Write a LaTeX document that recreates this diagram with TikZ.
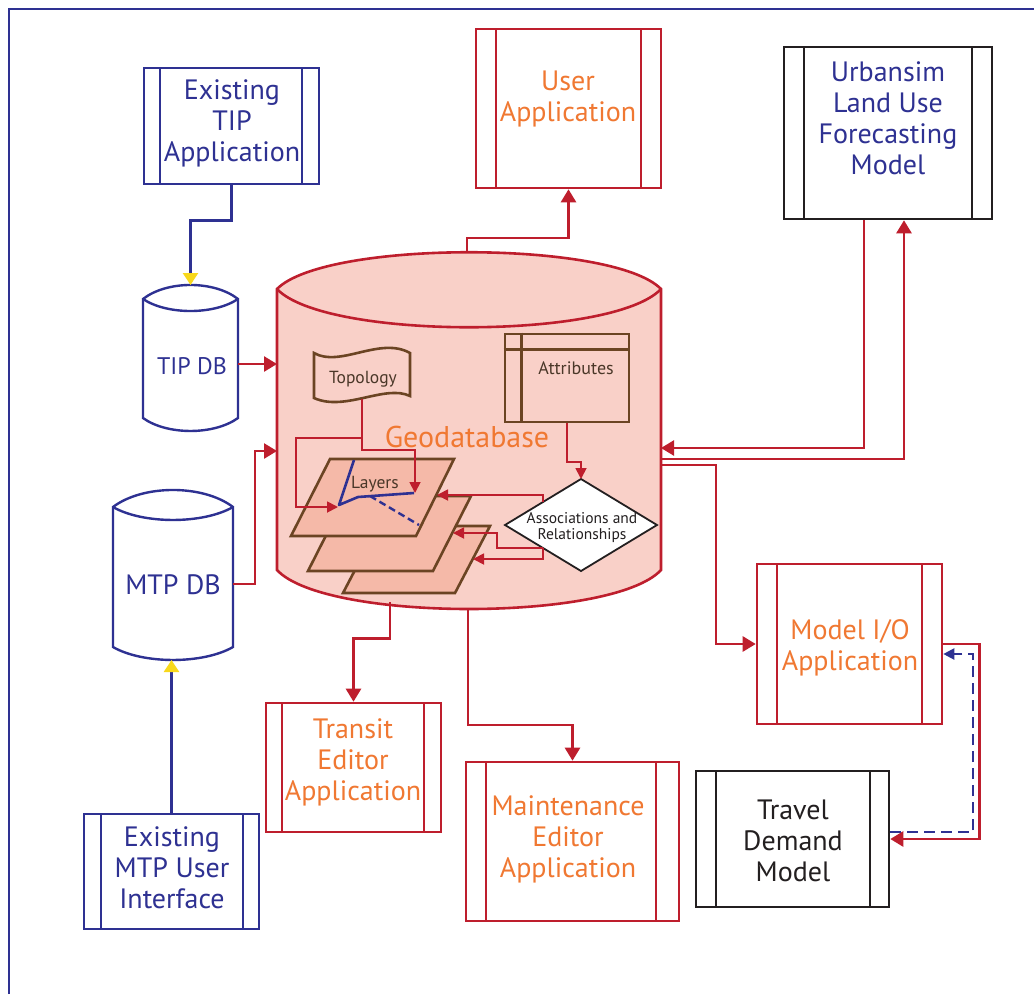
\documentclass[tikz,border=0pt]{standalone}
\usepackage{fontspec}
\setmainfont{PT Sans}
\usetikzlibrary{arrows.meta,shapes.geometric}
\definecolor{dblue}{HTML}{2E3192}
\definecolor{dred}{HTML}{BE1E2D}
\definecolor{orng}{HTML}{F07832}
\definecolor{brn}{HTML}{6B4423}
\definecolor{dbrn}{HTML}{4A3728}
\definecolor{blk}{HTML}{231F20}
\definecolor{pinkfill}{HTML}{F9D0C8}
\definecolor{layerfill}{HTML}{F5B9A8}
\definecolor{ylw}{HTML}{F8D81C}
\newcommand\fbig{\fontsize{28}{31}\selectfont}
\newcommand\fsmall{\fontsize{17.5}{20}\selectfont}
\newcommand\ftiny{\fontsize{15.5}{16}\selectfont}
\begin{document}
\begin{tikzpicture}[x=1pt,y=-1pt,
  appbox/.style n args={5}{draw=#1, line width=2.6pt, minimum width=#2, minimum height=#3, inner sep=0,
    path picture={\draw[#1, line width=2.6pt]
      ([xshift=#4]path picture bounding box.north west) -- ([xshift=#4]path picture bounding box.south west)
      ([xshift=-#5]path picture bounding box.north east) -- ([xshift=-#5]path picture bounding box.south east);}},
  lbl/.style={font=\fbig, align=center, inner sep=0},
  ghost/.style={inner sep=0, outer sep=0},
  conn/.style={dred, line width=2.6pt, -{Triangle[length=13pt,width=15pt]}},
  yconn/.style={dblue, line width=2.4pt, -{Triangle[length=12pt,width=15pt,color=ylw]}},
  inarr/.style={dred, line width=1.8pt, -{Triangle[length=11pt,width=11pt]}},
  dconn/.style={dblue, line width=2.2pt, dash pattern=on 11pt off 6pt, -{Triangle[length=11pt,width=11pt]}},
  brnline/.style={brn, line width=2.6pt}
]
\useasboundingbox (0,0) rectangle (1034,994);
\fill[white] (0,0) rectangle (1034,994);
\draw[dblue, line width=1.8pt] (9,994) -- (9,9) -- (1034,9);

% ---------- application boxes ----------
\node[appbox={dblue}{175}{116}{16}{17}] (tipapp) at (231.5,126) {};
\node[lbl, text=dblue] (tipappt) at (232,123) {Existing\\TIP\\Application};

\node[appbox={dred}{185}{159}{20}{20}] (userapp) at (568.5,108.5) {};
\node[lbl, text=orng] (userappt) at (568,98.5) {User\\Application};

\node[appbox={blk}{208}{172}{20}{20}] (urban) at (888,133) {};
\node[lbl, text=dblue] (urbant) at (888,118.5) {Urbansim\\Land Use\\Forecasting\\Model};

\node[appbox={dred}{185}{160}{20}{20}] (modelio) at (849.5,644) {};
\node[lbl, text=orng] (modeliot) at (850,647.5) {Model I/O\\Application};

\node[appbox={blk}{193}{136}{20}{19}] (travel) at (792.5,839) {};
\node[lbl, text=blk] (travelt) at (793,841) {Travel\\Demand\\Model};

\node[appbox={dred}{175}{129}{16}{17}] (transit) at (353.5,767.5) {};
\node[lbl, text=orng] (transitt) at (353,762) {Transit\\Editor\\Application};

\node[appbox={dred}{213}{159}{20}{23}] (maint) at (572.5,841.5) {};
\node[lbl, text=orng] (maintt) at (568,839) {Maintenance\\Editor\\Application};

\node[appbox={dblue}{175}{115}{17}{16}] (mtpui) at (171.5,871.5) {};
\node[lbl, text=dblue] (mtpuit) at (172,868) {Existing\\MTP User\\Interface};

% ---------- small databases ----------
\filldraw[fill=white, draw=dblue, line width=2.4pt]
  (143,299) .. controls (167,280.3) and (214,280.3) .. (238,299) -- (238,418)
  .. controls (214,435.3) and (167,435.3) .. (143,418) -- cycle;
\draw[dblue, line width=2.4pt] (143,299) .. controls (167,315) and (214,315) .. (238,299);
\node[ghost, minimum width=95, minimum height=146] (tipdb) at (190.5,358) {};
\node[font=\fontsize{24}{28}\selectfont, text=dblue, inner sep=0] (tipdbt) at (192,366) {TIP DB};

\filldraw[fill=white, draw=dblue, line width=2.4pt]
  (113,507) .. controls (143,484.3) and (203,484.3) .. (233,507) -- (233,647)
  .. controls (203,664.3) and (143,664.3) .. (113,647) -- cycle;
\draw[dblue, line width=2.4pt] (113,507) .. controls (143,524.3) and (203,524.3) .. (233,507);
\node[ghost, minimum width=120, minimum height=170] (mtpdb) at (173,575) {};
\node[font=\fontsize{28}{31}\selectfont, text=dblue, inner sep=0] (mtpdbt) at (173,585) {MTP DB};

% ---------- geodatabase ----------
\filldraw[fill=pinkfill, draw=dred, line width=2.6pt]
  (277,289) .. controls (325,240) and (613,240) .. (661,289) -- (661,570)
  .. controls (613,622) and (325,622) .. (277,570) -- cycle;
\draw[dred, line width=2.6pt] (277,289) .. controls (325,340) and (613,340) .. (661,289);
\node[ghost, minimum width=384, minimum height=357] (geo) at (469,430.5) {};
\node[font=\fontsize{30}{34}\selectfont, text=orng, inner sep=0] (geot) at (467,437) {Geodatabase};

% topology flag
\draw[brnline] (314,353) .. controls (340,368) and (380,336) .. (410,353) -- (410,396)
  .. controls (385,384) and (345,412) .. (314,398) -- cycle;
\node[ghost, minimum width=96, minimum height=44] (topo) at (362,377) {};
\node[font=\fsmall, text=dbrn, inner sep=0] (topot) at (363,379) {Topology};

% attributes table
\node[draw=brn, line width=2.6pt, minimum width=124, minimum height=88, inner sep=0] (attr) at (567,378) {};
\draw[brnline] ([xshift=18]attr.north west) -- ([xshift=18]attr.south west);
\draw[brnline] ([yshift=-17]attr.north west) -- ([yshift=-17]attr.north east);
\node[font=\fontsize{18}{20}\selectfont, text=dbrn, inner sep=0] (attrt) at (576,368) {Attributes};

% layers
\filldraw[fill=layerfill, draw=brn, line width=2.6pt] (378,526) -- (490,526) -- (455,593) -- (343,593) -- cycle;
\filldraw[fill=layerfill, draw=brn, line width=2.6pt] (346,496) -- (471,496) -- (433,571) -- (308,571) -- cycle;
\filldraw[fill=layerfill, draw=brn, line width=2.6pt] (330,459) -- (454,459) -- (416,536) -- (291,536) -- cycle;
\node[font=\fsmall, text=dbrn, inner sep=0] (layerst) at (375,484) {Layers};
\draw[dblue, line width=2.6pt, line join=round] (354,460) -- (339,505) -- (358,497) -- (414,493);
\draw[dblue, line width=2.4pt, dash pattern=on 7pt off 4pt] (370,496) -- (419,525);
\coordinate (l1a) at (415,493);
\coordinate (l1b) at (338,507);
\coordinate (l1r) at (437,495);
\coordinate (l2r) at (453,533);
\coordinate (l3r) at (473,559);

% diamond
\node[diamond, draw=blk, fill=white, line width=1.8pt, minimum width=152, minimum height=92, inner sep=0, outer sep=0] (assoc) at (581,525) {};
\node[font=\ftiny, align=center, text=blk, inner sep=0] (assoct) at (582,528) {Associations and\\Relationships};

% internal connectors
\draw[inarr] (topo.south) -- ++(0,51) -| (l1a);
\draw[inarr] ([yshift=-39]topo.south) -- ++(-66,0) |- (l1b);
\draw[inarr] (attr.south) -- ++(0,39) -| (assoc.north);
\draw[inarr] (assoc.north west) |- (l1r);
\draw[inarr] (assoc.south west) -- ++(-46,0) |- (l2r);
\draw[inarr] (assoc.south west) |- (l3r);

% ---------- external connectors ----------
\draw[yconn] (tipapp.south) -- ++(0,35) -| (tipdb.north);
\draw[yconn] (mtpui.north) -- (mtpui.north |- mtpdb.south);
\draw[conn] ([yshift=-6]tipdb.east) -- ([yshift=-6]tipdb.east -| geo.west);
\draw[conn] ([yshift=-9]mtpdb.east) -- ++(22,0) |- ([yshift=-20.5]geo.west);
\draw[conn] ([xshift=-2]geo.north) -- ++(0,-14) -| (userapp.south);
\draw[conn] ([xshift=-24]urban.south) |- ([yshift=-17.5]geo.east);
\draw[conn] ([yshift=-28.5]geo.east) -| ([xshift=16]urban.south);
\draw[conn] ([yshift=-34.5]geo.east) -- ++(55,0) |- (modelio.west);
\draw[conn] (modelio.east) -- ++(36,0) |- (travel.east);
\draw[dconn] ([yshift=7]travel.east) -- ++(83,0) |- ([yshift=-10]modelio.east);
\draw[conn] ([xshift=-79,yshift=6.6]geo.south) -- ++(0,36) -| (transit.north);
\draw[conn] ([xshift=-1]geo.south) -- ++(0,116) -| (maint.north);
\end{tikzpicture}
\end{document}
